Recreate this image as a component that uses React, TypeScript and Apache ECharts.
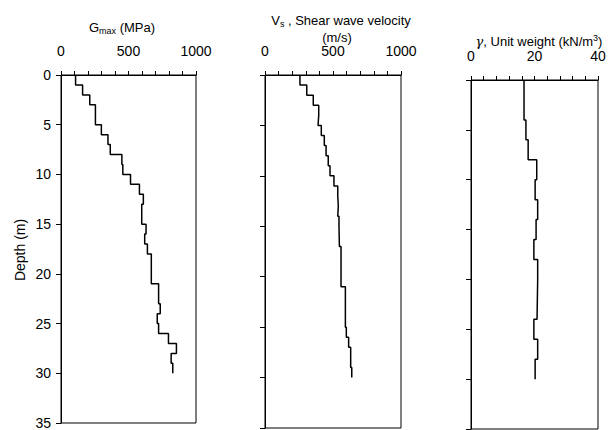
import React, { useEffect, useRef } from "react";
import * as echarts from "echarts";

// Depth boundaries (m) and layer values
const gmaxDepths = [0, 1, 2, 3, 5, 6, 7, 8, 9, 10, 11, 12, 13, 15, 16, 17, 18, 21, 23, 24, 25, 26, 27, 28, 29, 30];
const gmaxValues = [108, 160, 213, 255, 299, 348, 365, 451, 458, 515, 581, 610, 598, 630, 620, 640, 669, 723, 735, 713, 723, 796, 855, 816, 828];

const vsDepths = [0, 1, 2, 3, 4, 5, 6, 7, 8, 9, 10, 11, 12, 13, 14, 15, 17, 21, 25, 26, 27, 29, 30];
const vsValues = [257, 307, 355, 395, 390, 414, 436, 449, 465, 478, 507, 535, 539, 535, 544, 547, 559, 591, 598, 615, 630, 638];

const gammaDepths = [0, 4, 6, 8, 10, 12, 14, 16, 18, 20, 24, 26, 28, 30];
const gammaValues = [16.7, 17.3, 18.0, 20.7, 20.2, 21.0, 20.5, 19.8, 21.0, 20.8, 19.8, 21.0, 20.2];

const depthTicks = [0, 5, 10, 15, 20, 25, 30, 35];

function stepPoints(depths: number[], values: number[]) {
  const pts: number[][] = [];
  for (let i = 0; i < values.length; i++) {
    pts.push([values[i], depths[i]]);
    pts.push([values[i], depths[i + 1]]);
  }
  return pts;
}

const FONT = "'Liberation Sans', Arial, sans-serif";

export default function App() {
  const ref = useRef<HTMLDivElement>(null);
  useEffect(() => {
    if (!ref.current) return;
    const chart = echarts.init(ref.current, undefined, { renderer: "svg" });
    const grids = [
      { left: 61, top: 75, width: 135, height: 353 },
      { left: 265, top: 75, width: 136, height: 353 },
      { left: 471, top: 80, width: 127, height: 349 },
    ];
    const xMax = [1000, 1000, 40];
    const xInt = [500, 500, 20];
    const xAxes = grids.map((g, i) => ({
      type: "value",
      gridIndex: i,
      position: "top",
      min: 0,
      max: xMax[i],
      interval: xInt[i],
      axisLine: { show: true, lineStyle: { color: "#000", width: 1 } },
      axisTick: { show: true, inside: false, length: 4, lineStyle: { color: "#000" } },
      minorTick: { show: true, splitNumber: 5, length: 4, lineStyle: { color: "#000" } },
      splitLine: { show: false },
      axisLabel: {
        show: true,
        margin: 17,
        fontSize: 14,
        fontFamily: FONT,
        color: "#000",
        formatter: (v: number) => String(v),
      },
    }));
    const yAxes = grids.map((g, i) => ({
      type: "value",
      gridIndex: i,
      inverse: true,
      min: 0,
      max: depthTicks[depthTicks.length - 1],
      interval: depthTicks[1] - depthTicks[0],
      axisLine: { show: true, lineStyle: { color: "#000", width: 1 } },
      axisTick: { show: true, inside: false, length: 5, lineStyle: { color: "#000" } },
      splitLine: { show: false },
      axisLabel: {
        show: i === 0,
        margin: 10,
        fontSize: 14,
        fontFamily: FONT,
        color: "#000",
        formatter: (v: number) => String(v),
      },
    }));
    const datasets = [
      stepPoints(gmaxDepths, gmaxValues),
      stepPoints(vsDepths, vsValues),
      stepPoints(gammaDepths, gammaValues),
    ];
    chart.setOption({
      animation: false,
      backgroundColor: "#fff",
      grid: grids.map((g) => ({ ...g, show: true, borderColor: "#000", borderWidth: 1, backgroundColor: "transparent" })),
      xAxis: xAxes,
      yAxis: yAxes,
      series: datasets.map((d, i) => ({
        type: "line",
        xAxisIndex: i,
        yAxisIndex: i,
        data: d,
        showSymbol: false,
        symbol: "none",
        lineStyle: { color: "#000", width: 1.5 },
      })),
      graphic: [
        {
          type: "text",
          x: 122,
          y: 27,
          style: {
            text: "{a|G}{sub|max}{a| (MPa)}",
            align: "center",
            verticalAlign: "middle",
            fill: "#000",
            rich: {
              a: { fontSize: 13, fontFamily: FONT, fill: "#000", lineHeight: 16 },
              sub: { fontSize: 9, fontFamily: FONT, fill: "#000", verticalAlign: "bottom", lineHeight: 11, padding: [5, 0, 0, 0] },
            },
          },
        },
        {
          type: "text",
          x: 341,
          y: 20,
          style: {
            text: "{a|V}{sub|s}{a| , Shear wave velocity}",
            align: "center",
            verticalAlign: "middle",
            fill: "#000",
            rich: {
              a: { fontSize: 13, fontFamily: FONT, fill: "#000", lineHeight: 16 },
              sub: { fontSize: 9, fontFamily: FONT, fill: "#000", verticalAlign: "bottom", lineHeight: 11, padding: [5, 0, 0, 0] },
            },
          },
        },
        {
          type: "text",
          x: 337,
          y: 37,
          style: { text: "(m/s)", align: "center", verticalAlign: "middle", fontSize: 13, fontFamily: FONT, fill: "#000" },
        },
        {
          type: "text",
          x: 539,
          y: 41,
          style: {
            text: "{g|γ}{a|, Unit weight (kN/m}{sup|3}{a|)}",
            align: "center",
            verticalAlign: "middle",
            fill: "#000",
            rich: {
              g: { fontSize: 13, fontFamily: "'DejaVu Serif', serif", fontStyle: "italic", fill: "#000", lineHeight: 16 },
              a: { fontSize: 13, fontFamily: FONT, fill: "#000", lineHeight: 16 },
              sup: { fontSize: 9, fontFamily: FONT, fill: "#000", verticalAlign: "top", lineHeight: 11, padding: [0, 0, 5, 0] },
            },
          },
        },
        {
          type: "text",
          x: 20,
          y: 250,
          rotation: Math.PI / 2,
          style: { text: "Depth (m)", align: "center", verticalAlign: "middle", fontSize: 14, fontFamily: FONT, fill: "#000" },
        },
      ],
    });
    return () => chart.dispose();
  }, []);
  return (
    <div
      ref={ref}
      style={{ position: "fixed", left: 0, top: 0, width: 616, height: 430, background: "#fff" }}
    />
  );
}
